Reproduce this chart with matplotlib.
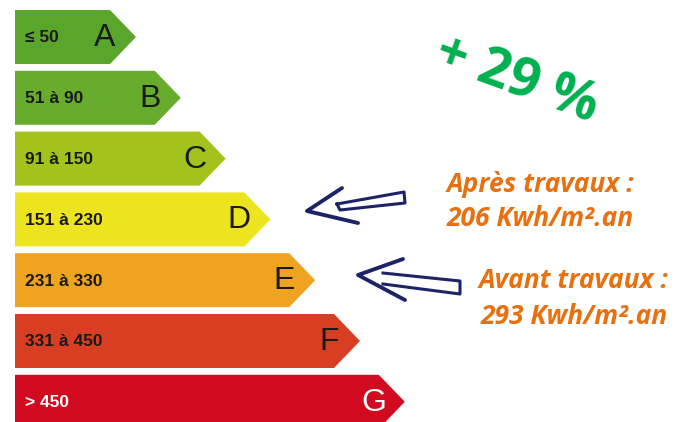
import matplotlib.pyplot as plt
from matplotlib.patches import Polygon

# energy classes
letters = ['A', 'B', 'C', 'D', 'E', 'F', 'G']
ranges = ['≤ 50', '51 à 90', '91 à 150', '151 à 230', '231 à 330', '331 à 450', '> 450']
colors = ['#5aa52b', '#68ac2d', '#a3c21b', '#ebe41f', '#eea321', '#d73e22', '#d10a1f']
label_colors = ['#1a1a1a'] * 6 + ['white']

gain = '+ 29 %'
after_lines = ['Après travaux :', '206 Kwh/m².an']
before_lines = ['Avant travaux :', '293 Kwh/m².an']

fig = plt.figure(figsize=(6.75, 4.22), dpi=100)
ax = fig.add_axes([0, 0, 1, 1])
ax.set_xlim(0, 675)
ax.set_ylim(422, 0)
ax.axis('off')

x0, top0, step, h = 15, 10, 60.8, 54
for i, (let, rng, col, lc) in enumerate(zip(letters, ranges, colors, label_colors)):
    top = top0 + i * step
    tip = 136 + i * 44.8
    body = tip - 26
    mid = top + h / 2
    poly = Polygon([(x0, top), (body, top), (tip, mid), (body, top + h), (x0, top + h)],
                   closed=True, facecolor=col, edgecolor='none')
    ax.add_patch(poly)
    ax.text(x0 + 10, mid + 1, rng, fontsize=12.5, fontweight='bold', color=lc,
            family='Liberation Sans', va='center', ha='left')
    ax.text(body - 5, mid + 1, let, fontsize=23, color=lc,
            family='Liberation Sans', va='center', ha='center')

# big green percentage
ax.text(517, 80, gain, fontsize=39, fontweight='bold', color='#00b04f',
        family='Open Sans', rotation=-20, ha='center', va='center')

orange = '#e8700e'
tkw = dict(fontsize=19, fontweight='bold', style='italic', color=orange,
           family='Open Sans', ha='center', va='center')
ax.text(540, 185, after_lines[0], **tkw)
ax.text(540, 219, after_lines[1], **tkw)
ax.text(574, 281, before_lines[0], **tkw)
ax.text(574, 317, before_lines[1], **tkw)

# hand drawn arrows
navy = '#1c2466'
kw = dict(color=navy, lw=2.8, solid_capstyle='round', solid_joinstyle='round')
ax.plot([342, 307, 358], [188, 211, 223], **kw)
ax.plot([337, 404, 405, 340, 337], [204, 192, 203, 210, 204], lw=2.2, color=navy)
ax.plot([403, 358, 405], [259, 275, 300], **kw)
ax.plot([383, 460, 460, 383], [273, 281, 294, 284], lw=2.2, color=navy)

fig.savefig('out.png', dpi=100)
